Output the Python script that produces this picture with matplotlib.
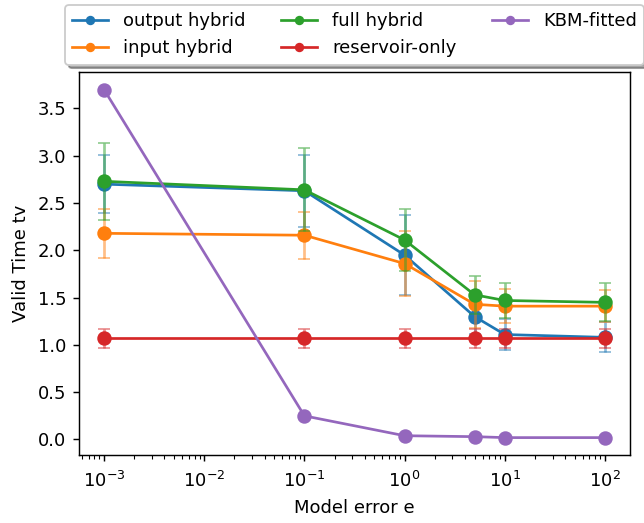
import numpy as np
import matplotlib
matplotlib.use("Agg")
import matplotlib.pyplot as plt

# model error values (log x axis)
eps = [1e-3, 1e-1, 1e0, 5e0, 1e1, 1e2]

# mean valid time and spread for each method
out_hyb = [2.70, 2.63, 1.95, 1.30, 1.11, 1.08]
out_hyb_err = [0.31, 0.38, 0.42, 0.18, 0.16, 0.16]
in_hyb = [2.18, 2.16, 1.86, 1.43, 1.41, 1.41]
in_hyb_err = [0.26, 0.25, 0.34, 0.25, 0.18, 0.17]
full_hyb = [2.73, 2.64, 2.11, 1.53, 1.47, 1.45]
full_hyb_err = [0.41, 0.44, 0.33, 0.20, 0.19, 0.20]
res_only = [1.07, 1.07, 1.07, 1.07, 1.07, 1.07]
res_only_err = [0.10, 0.10, 0.10, 0.10, 0.10, 0.10]
kbm = [3.70, 0.25, 0.04, 0.03, 0.02, 0.02]

DPI = 130
fig = plt.figure(figsize=(644 / DPI, 523 / DPI), dpi=DPI)
ax = fig.add_axes([0.1227, 0.13, 0.8555, 0.732])

series = [
    ("output hybrid", out_hyb, out_hyb_err, "C0"),
    ("input hybrid", in_hyb, in_hyb_err, "C1"),
    ("full hybrid", full_hyb, full_hyb_err, "C2"),
    ("reservoir-only", res_only, res_only_err, "C3"),
]
for name, y, err, c in series:
    ax.errorbar(eps, y, yerr=err, fmt="none", ecolor=c, alpha=0.5, capsize=3.3)
    ax.plot(eps, y, "o-", color=c, ms=7, label=name)
ax.plot(eps, kbm, "o-", color="C4", ms=7, label="KBM-fitted")

ax.set_xscale("log")
ax.tick_params(axis="x", which="major", pad=5.5)
ax.set_xlabel("Model error e")
ax.set_ylabel("Valid Time tv")
ax.legend(loc="lower center", bbox_to_anchor=(0.5, 1.02), borderaxespad=0,
          ncol=3, fancybox=True, shadow=True, markerscale=0.6)

fig.savefig("out.png", dpi=DPI)
